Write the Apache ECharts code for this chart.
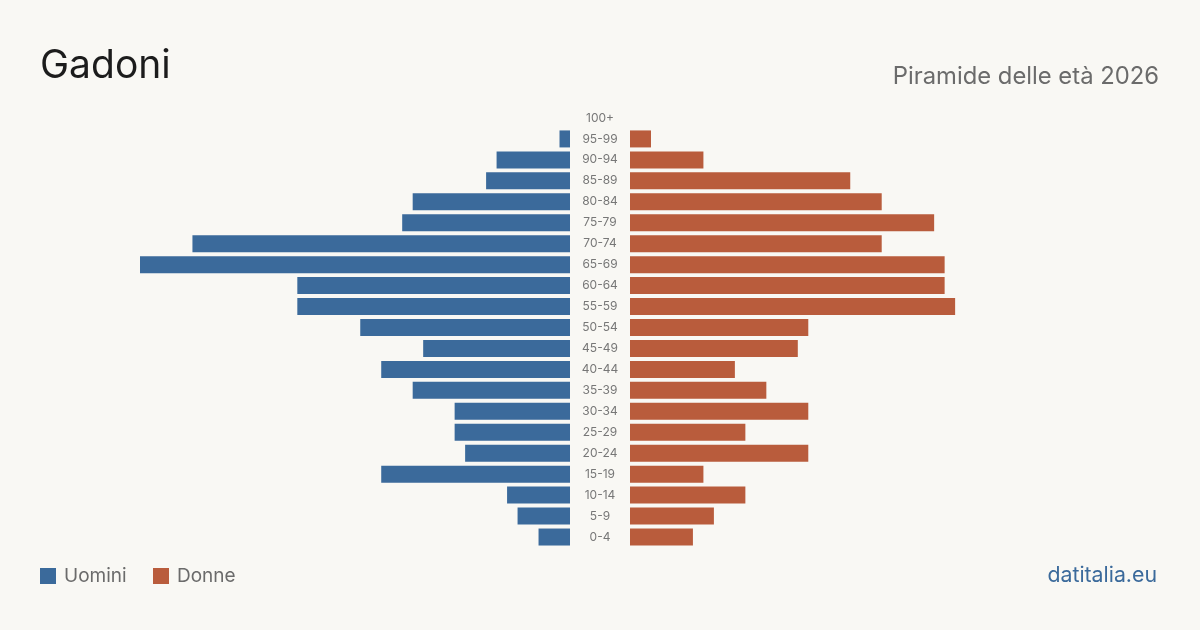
<!DOCTYPE html>
<html>
<head>
<meta charset="utf-8">
<script src="https://cdn.jsdelivr.net/npm/echarts@6/dist/echarts.min.js"></script>
<style>
  html, body { margin: 0; padding: 0; background: #f9f8f4; }
  #chart { width: 1200px; height: 630px; }
</style>
</head>
<body>
<div id="chart"></div>
<script>
// fasce d'età, dal basso verso l'alto
const ageGroups = ['0-4', '5-9', '10-14', '15-19', '20-24', '25-29', '30-34', '35-39', '40-44', '45-49',
  '50-54', '55-59', '60-64', '65-69', '70-74', '75-79', '80-84', '85-89', '90-94', '95-99', '100+']
const men = [3, 5, 6, 18, 10, 11, 11, 15, 18, 14, 20, 26, 26, 41, 36, 16, 15, 8, 7, 1, 0]
const women = [6, 8, 11, 7, 17, 11, 17, 13, 10, 16, 17, 31, 30, 30, 24, 29, 24, 21, 7, 2, 0]

const maxVal = 41
const blue = '#3b6a9b'
const red = '#b95c3c'
const font = 'Inter, "Noto Sans", sans-serif'

const chart = echarts.init(document.getElementById('chart'))

const option = {
  backgroundColor: '#f9f8f4',
  animation: false,
  textStyle: { fontFamily: font },
  grid: [
    { left: 140, width: 430, top: 107.5, height: 440 },
    { left: 630, width: 430, top: 107.5, height: 440 },
  ],
  xAxis: [
    { gridIndex: 0, type: 'value', min: 0, max: maxVal, inverse: true, show: false },
    { gridIndex: 1, type: 'value', min: 0, max: maxVal, show: false },
  ],
  yAxis: [
    { gridIndex: 0, type: 'category', data: ageGroups, show: false },
    {
      gridIndex: 1, type: 'category', data: ageGroups,
      axisLine: { show: false }, axisTick: { show: false },
      axisLabel: { align: 'center', margin: 30, color: '#777', fontSize: 12, fontFamily: font },
    },
  ],
  series: [
    {
      name: 'Uomini', type: 'bar', xAxisIndex: 0, yAxisIndex: 0,
      data: men, barWidth: 17, itemStyle: { color: blue },
    },
    {
      name: 'Donne', type: 'bar', xAxisIndex: 1, yAxisIndex: 1,
      data: women, barWidth: 17, itemStyle: { color: red },
    },
  ],
  graphic: [
    { type: 'text', left: 40, top: 47, style: { text: 'Gadoni', fontSize: 39, fill: '#1c1c1c', fontFamily: font } },
    { type: 'text', right: 41, top: 65, style: { text: 'Piramide delle età 2026', fontSize: 23.8, fill: '#6b6b6b', fontFamily: font } },
    { type: 'rect', left: 40, top: 568, shape: { width: 16, height: 16 }, style: { fill: blue } },
    { type: 'text', left: 64, top: 567, style: { text: 'Uomini', fontSize: 19, fill: '#6b6b6b', fontFamily: font } },
    { type: 'rect', left: 153, top: 568, shape: { width: 16, height: 16 }, style: { fill: red } },
    { type: 'text', left: 177, top: 567, style: { text: 'Donne', fontSize: 19, fill: '#6b6b6b', fontFamily: font } },
    { type: 'text', right: 43, top: 565, style: { text: 'datitalia.eu', fontSize: 21.3, fill: '#3b6a9b', fontFamily: font } },
  ],
}

chart.setOption(option)
</script>
</body>
</html>
